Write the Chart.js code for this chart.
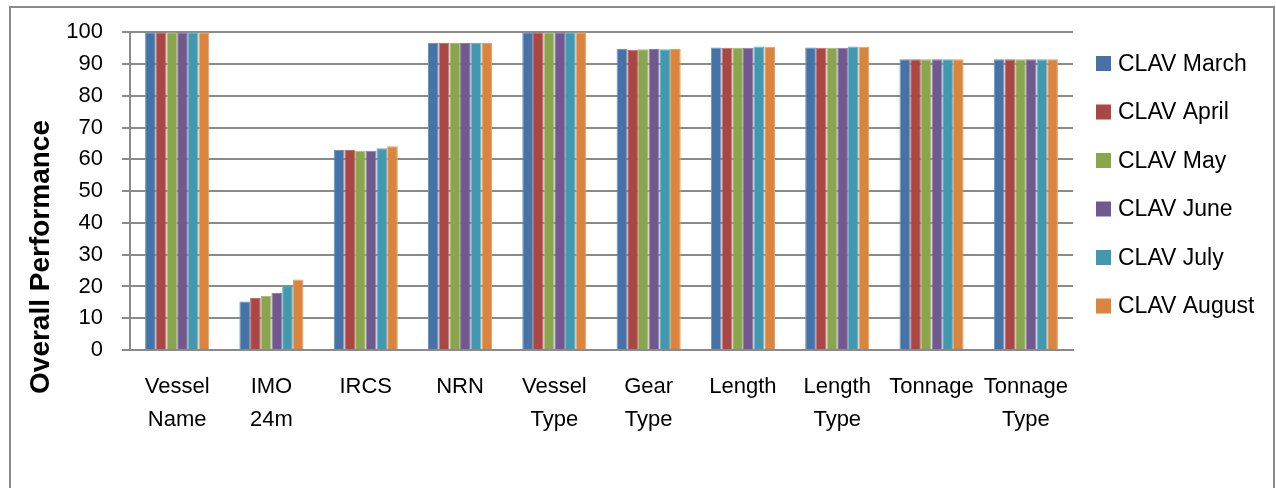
<!DOCTYPE html>
<html>
<head>
<meta charset="utf-8">
<script src="https://cdn.jsdelivr.net/npm/chart.js@4/dist/chart.umd.min.js"></script>
<style>
  html, body { margin: 0; padding: 0; background: #fff; overflow: hidden; }
  #wrap { position: relative; width: 1276px; height: 488px; }
  #frame { position: absolute; left: 9px; top: 6px; width: 1266px; height: 520px;
           box-sizing: border-box; border: 2px solid #8a8a8a; pointer-events: none; }
  canvas { position: absolute; left: 0; top: 0; }
</style>
</head>
<body>
<div id="wrap">
  <canvas id="chart" width="1276" height="488"></canvas>
  <div id="frame"></div>
</div>
<script>
// Categories (multi-line labels wrap onto two rows)
const categories = [
  ['Vessel', 'Name'], ['IMO', '24m'], 'IRCS', 'NRN', ['Vessel', 'Type'],
  ['Gear', 'Type'], 'Length', ['Length', 'Type'], 'Tonnage', ['Tonnage', 'Type']
];

// Overall performance per month
const clavMarch  = [100, 15.3, 62.9, 96.6, 100, 94.7, 95.2, 95.2, 91.5, 91.5];
const clavApril  = [100, 16.4, 62.9, 96.6, 100, 94.5, 95.1, 95.1, 91.5, 91.5];
const clavMay    = [100, 17.0, 62.7, 96.6, 100, 94.6, 95.1, 95.1, 91.5, 91.5];
const clavJune   = [100, 17.9, 62.7, 96.6, 100, 94.7, 95.1, 95.1, 91.5, 91.5];
const clavJuly   = [100, 20.3, 63.5, 96.6, 100, 94.6, 95.5, 95.5, 91.5, 91.5];
const clavAugust = [100, 22.2, 64.1, 96.6, 100, 94.7, 95.4, 95.4, 91.5, 91.5];

const seriesNames = ['CLAV March', 'CLAV April', 'CLAV May', 'CLAV June', 'CLAV July', 'CLAV August'];
const seriesValues = [clavMarch, clavApril, clavMay, clavJune, clavJuly, clavAugust];
const seriesColors = ['#4572A7', '#AA4643', '#89A54E', '#71588F', '#4198AF', '#DB843D'];
const seriesEdges  = ['#6f93bd', '#c06f6c', '#a4bd79', '#917cab', '#6cb1c3', '#e5a06a'];

const yTitle = 'Overall Performance';
const FONT = "'Liberation Sans', Arial, sans-serif";
const GRID = '#8a8a8a';

// Right-hand legend and rotated y-axis title
const sidePlugin = {
  id: 'sideDecor',
  afterDraw(chart) {
    const ctx = chart.ctx;
    ctx.save();
    // axis title
    ctx.font = 'bold 28px ' + FONT;
    ctx.fillStyle = '#000';
    ctx.textAlign = 'center';
    ctx.textBaseline = 'middle';
    ctx.translate(41, 257);
    ctx.rotate(-Math.PI / 2);
    ctx.fillText(yTitle, 0, 0);
    ctx.restore();

    ctx.save();
    ctx.font = '23px ' + FONT;
    ctx.textAlign = 'left';
    ctx.textBaseline = 'middle';
    chart.data.datasets.forEach((ds, i) => {
      const cy = 63.5 + i * 48.5;
      ctx.fillStyle = ds.backgroundColor;
      ctx.fillRect(1096, cy - 7.5, 15, 15);
      ctx.fillStyle = '#000';
      ctx.fillText(ds.label, 1118, cy + 1);
    });
    ctx.restore();
  }
};

new Chart(document.getElementById('chart'), {
  type: 'bar',
  data: {
    labels: categories,
    datasets: seriesNames.map((name, i) => ({
      label: name,
      data: seriesValues[i],
      backgroundColor: seriesColors[i],
      borderColor: seriesEdges[i],
      borderWidth: 1,
      categoryPercentage: 0.68,
      barPercentage: 1.0
    }))
  },
  options: {
    responsive: false,
    animation: false,
    events: [],
    layout: { padding: { left: 0, top: 31, right: 203, bottom: 0 } },
    plugins: { legend: { display: false }, tooltip: { enabled: false } },
    scales: {
      x: {
        grid: { display: false },
        border: { display: true, color: GRID, width: 2 },
        ticks: {
          color: '#000',
          font: { family: FONT, size: 22, lineHeight: 1.5 },
          padding: 12,
          maxRotation: 0,
          autoSkip: false
        },
        afterFit(scale) { scale.height = 138; }
      },
      y: {
        min: 0,
        max: 100,
        ticks: {
          stepSize: 10,
          color: '#000',
          font: { family: FONT, size: 22 },
          padding: 19
        },
        grid: { color: GRID, lineWidth: 2, tickLength: 8, drawTicks: true },
        border: { display: true, color: GRID, width: 2 },
        afterFit(scale) { scale.width = 130; }
      }
    }
  },
  plugins: [sidePlugin]
});
</script>
</body>
</html>
